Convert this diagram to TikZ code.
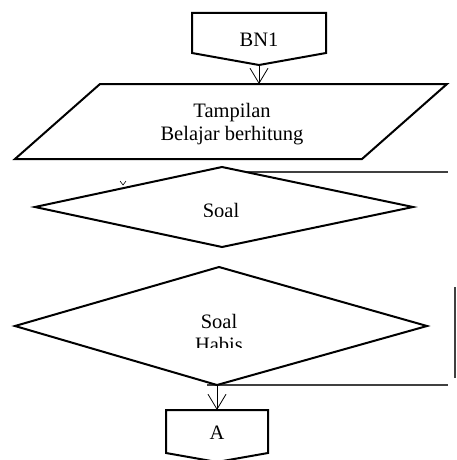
\documentclass[tikz,border=0pt]{standalone}
\usepackage{fontspec}
\setmainfont{Liberation Serif}
\usetikzlibrary{arrows.meta}
\tikzset{
  shapeline/.style={draw=black, line width=2pt, fill=white, line join=miter},
  thinline/.style={draw=black!75, line width=1.3pt},
  flowarrow/.style={draw=black, line width=0.8pt, -{Straight Barb[length=15pt,width=18pt]}},
  lbl/.style={font=\fontsize{20.5}{23}\selectfont, inner sep=0pt, align=center}
}
\begin{document}
\begin{tikzpicture}[x=1pt,y=-1pt]
\useasboundingbox (0,0) rectangle (457,460);
% loop-back lines (behind shapes)
\coordinate (ltop) at (240,172);
\coordinate (ltopr) at (448,172);
\coordinate (lbot) at (207,385);
\coordinate (lbotr) at (448,385);
\coordinate (vtop) at (455,287);
\coordinate (vbot) at (455,378);
\draw[thinline] (ltop) -- (ltopr);
\draw[thinline] (lbot) -- (lbotr);
\draw[thinline] (vtop) -- (vbot);
% BN1 off-page connector
\draw[shapeline] (192,13) -- (326,13) -- (326,53) -- (259,65) -- (192,53) -- cycle;
\coordinate (bn1bot) at (259,65);
\node[lbl] (bn1) at (259,40) {BN1};
% parallelogram
\draw[shapeline] (100,84) -- (447,84) -- (362,159) -- (15,159) -- cycle;
\coordinate (partop) at (259,84);
\node[lbl] (tamp) at (232,124) {Tampilan\\Belajar berhitung};
\draw[flowarrow] (bn1bot) -- (partop);
% diamond 1
\draw[shapeline] (222,167) -- (413,207) -- (222,247) -- (35,207) -- cycle;
\begin{scope}
\clip (150,190) rectangle (300,216.5);
\node[lbl, anchor=base] (soal1) at (221,217) {Soal};
\end{scope}
% small stray arrow tick
\coordinate (tick) at (123,185);
\draw[black, line width=0.6pt] (120,181) -- (tick) -- (126,181);
% diamond 2
\draw[shapeline] (219,267) -- (427,326) -- (217,385) -- (15,326) -- cycle;
\begin{scope}
\clip (150,290) rectangle (300,347);
\node[lbl] (soal2) at (219,333) {Soal\\Habis};
\end{scope}
\coordinate (d2bot) at (217,385);
% A off-page connector
\draw[shapeline] (166,410) -- (268,410) -- (268,453) -- (217,462) -- (166,453) -- cycle;
\coordinate (atop) at (217,410);
\node[lbl] (a) at (217,433) {A};
\draw[flowarrow] (d2bot) -- (atop);
\end{tikzpicture}
\end{document}
